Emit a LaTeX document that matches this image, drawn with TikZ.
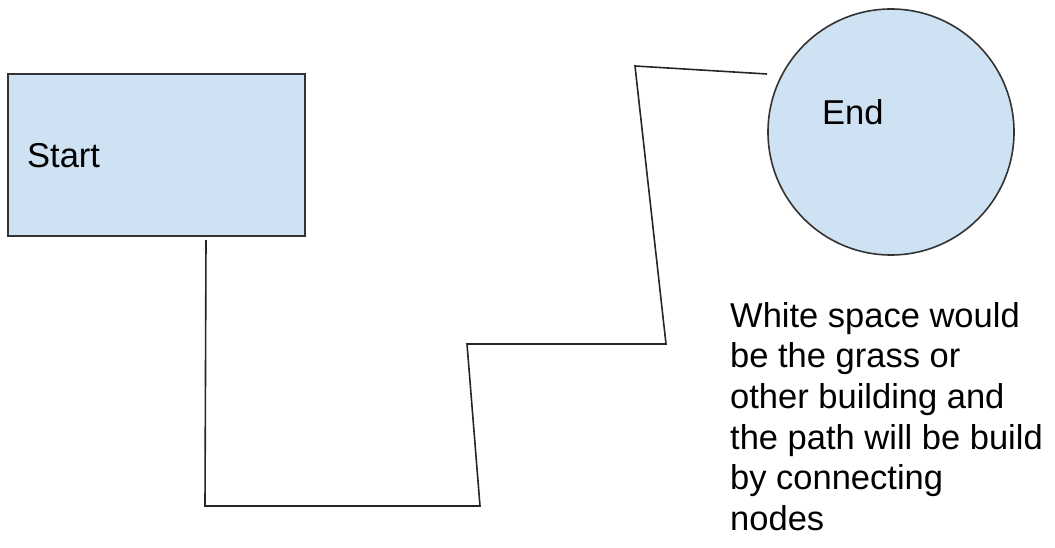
\documentclass[tikz,border=0pt]{standalone}
\usepackage{fontspec}
\setmainfont{Liberation Sans}
\begin{document}
\begin{tikzpicture}[x=1pt,y=-1pt,
  shapefill/.style={draw=black!80, line width=1.6pt, fill=blue!20!cyan!12!white},
  pathline/.style={draw=black!85, line width=1.6pt, line join=miter},
  txt/.style={inner sep=0pt, anchor=base west, font=\fontsize{34.5}{40.6}\selectfont}]
\useasboundingbox (0,0) rectangle (1055,548);
\definecolor{lightblue}{HTML}{CFE2F3}
\node[shapefill, fill=lightblue, rectangle, minimum width=297pt, minimum height=162pt, inner sep=0pt] (start) at (156.5,155) {};
\node[txt] (starttxt) at (27,168) {Start};
\node[shapefill, fill=lightblue, circle, minimum size=246pt, inner sep=0pt] (end) at (891,132) {};
\node[txt] (endtxt) at (822,125) {End};
\node[txt, align=left, anchor=north west, text depth=0pt] (note) at (730,302) {White space would\\be the grass or\\other building and\\the path will be build\\by connecting\\nodes};
\coordinate (p0) at (206,240);
\coordinate (p1) at (205,506);
\coordinate (p2) at (480,506);
\coordinate (p3) at (467,344);
\coordinate (p4) at (666,344);
\coordinate (p5) at (635,66);
\coordinate (p6) at (767,74);
\draw[pathline] (p0) -- (p1) -- (p2) -- (p3) -- (p4) -- (p5) -- (p6);
\end{tikzpicture}
\end{document}
